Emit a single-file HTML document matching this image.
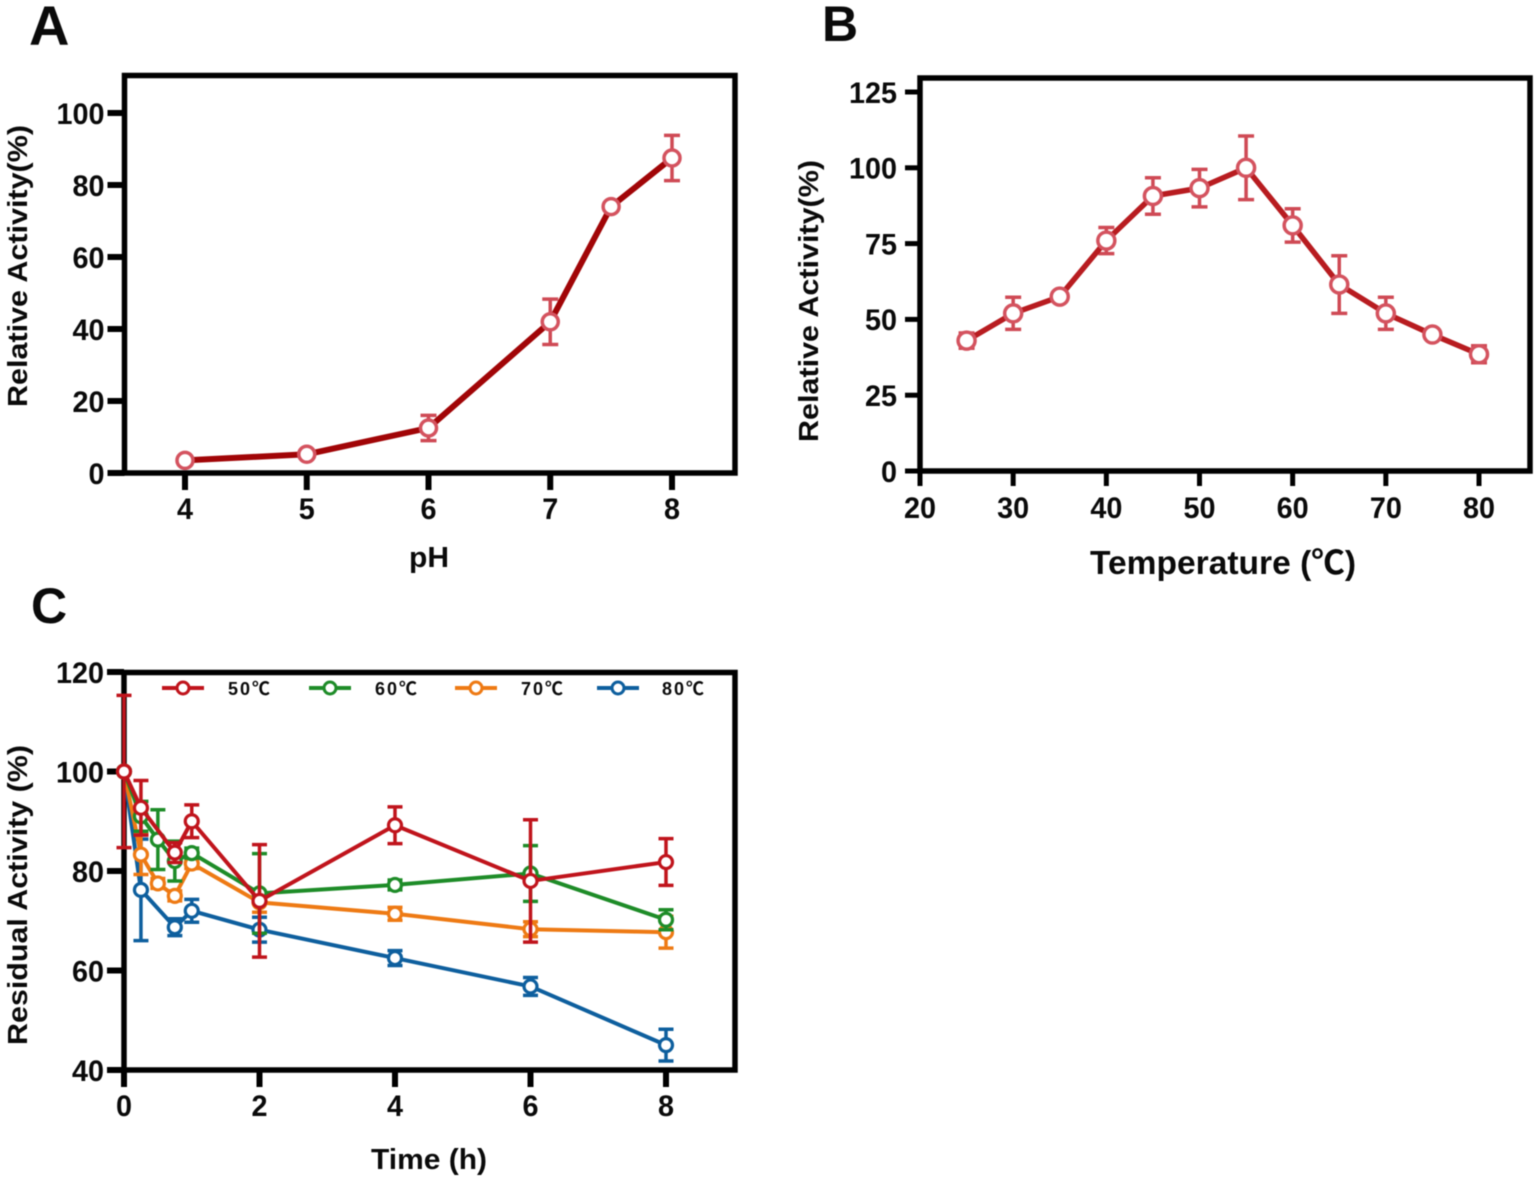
<!DOCTYPE html>
<html>
<head>
<meta charset="utf-8">
<title>Enzyme activity charts</title>
<style>
html,body{margin:0;padding:0;background:#fff;}
svg{display:block;filter:blur(0.4px);}
text{font-family:"Liberation Sans","Noto Sans CJK SC",sans-serif;font-weight:bold;fill:#0a0a0a;}
</style>
</head>
<body>
<svg id="figure" xmlns="http://www.w3.org/2000/svg" width="1535" height="1181" viewBox="0 0 1535 1181">
  <rect x="0" y="0" width="1535" height="1181" fill="#fff"/>
  <text x="29" y="45" font-size="56">A</text>
  <text x="822" y="41" font-size="50">B</text>
  <text x="31" y="623" font-size="50">C</text>

  <text transform="translate(27,266) rotate(-90)" text-anchor="middle" font-size="28" textLength="282" lengthAdjust="spacingAndGlyphs">Relative Activity(%)</text>
  <text x="429" y="567" text-anchor="middle" font-size="29" textLength="40" lengthAdjust="spacingAndGlyphs">pH</text>

  <text transform="translate(818,301) rotate(-90)" text-anchor="middle" font-size="28" textLength="282" lengthAdjust="spacingAndGlyphs">Relative Activity(%)</text>
  <text x="1223" y="574" text-anchor="middle" font-size="33" textLength="266" lengthAdjust="spacingAndGlyphs">Temperature (℃)</text>

  <text transform="translate(27,895) rotate(-90)" text-anchor="middle" font-size="28" textLength="300" lengthAdjust="spacingAndGlyphs">Residual Activity (%)</text>
  <text x="429" y="1169" text-anchor="middle" font-size="29" textLength="116" lengthAdjust="spacingAndGlyphs">Time (h)</text>

  <g id="panel-a"></g>
  <g id="panel-b"></g>
  <g id="panel-c"></g>
  <g id="legend">
    <text x="228" y="695" font-size="18" letter-spacing="2">50℃</text>
    <text x="375" y="695" font-size="18" letter-spacing="2">60℃</text>
    <text x="521" y="695" font-size="18" letter-spacing="2">70℃</text>
    <text x="662" y="695" font-size="18" letter-spacing="2">80℃</text>
  </g>
</svg>
<script>
// Panel A data
var phValues = [4, 5, 6, 7, 7.5, 8];
var phActivity = [3.5, 5.2, 12.5, 42, 74, 87.5];
var phError = [0.6, 0.6, 3.5, 6.3, 0.6, 6.3];
var phXTicks = [4, 5, 6, 7, 8];
var phYTicks = [0, 20, 40, 60, 80, 100];

// Panel B data
var tempValues = [25, 30, 35, 40, 45, 50, 55, 60, 65, 70, 75, 80];
var tempActivity = [43, 52, 57.5, 76, 90.7, 93.3, 100, 81, 61.5, 52, 45, 38.5];
var tempError = [2.5, 5.3, 1, 4.3, 6, 6.2, 10.5, 5.5, 9.5, 5.3, 0.5, 2.8];
var tempXTicks = [20, 30, 40, 50, 60, 70, 80];
var tempYTicks = [0, 25, 50, 75, 100, 125];

// Panel C data
var timeXTicks = [0, 2, 4, 6, 8];
var timeYTicks = [40, 60, 80, 100, 120];
var time50 = [0, 0.25, 0.75, 1, 2, 4, 6, 8];
var activity50 = [100, 92.7, 83.7, 90, 74, 89.2, 78, 81.8];
var error50 = [15.3, 5.5, 2, 3.3, 11.3, 3.7, 12.3, 4.7];
var time60 = [0, 0.25, 0.5, 0.75, 1, 2, 4, 6, 8];
var activity60 = [100, 91, 86.3, 82, 83.6, 75.5, 77.2, 79.5, 70.2];
var error60 = [0, 3, 6, 4, 1, 8, 1, 5.6, 2];
var time70 = [0, 0.25, 0.5, 0.75, 1, 2, 4, 6, 8];
var activity70 = [100, 83.3, 77.5, 75, 81.5, 73.7, 71.4, 68.3, 67.7];
var error70 = [0, 4, 1, 1, 1, 2, 1.3, 1.5, 3.2];
var time80 = [0, 0.25, 0.75, 1, 2, 4, 6, 8];
var activity80 = [100, 76.2, 68.7, 72, 68.2, 62.5, 56.8, 45];
var error80 = [0, 10.2, 1.7, 2.3, 2.5, 1.5, 1.8, 3.2];

var NS = 'http://www.w3.org/2000/svg';

function linear(d0, d1, r0, r1) {
  return function (v) { return r0 + (v - d0) * (r1 - r0) / (d1 - d0); };
}
function make(parent, tag, props) {
  var node = document.createElementNS(NS, tag);
  for (var k in props) node.setAttribute(k, props[k]);
  parent.appendChild(node);
  return node;
}

function drawAxes(g, box, xs, ys, xTicks, yTicks, style, prefix) {
  var frame = make(g, 'rect', {x: box.l, y: box.t, width: box.r - box.l, height: box.b - box.t, fill: 'none', stroke: '#000', 'stroke-width': style.frame});
  
  
  xTicks.forEach(function (v) {
    var tick = make(g, 'line', {x1: xs(v), x2: xs(v), y1: box.b, y2: box.b + style.tickLen, stroke: '#000', 'stroke-width': style.tick});
    
    
    var label = make(g, 'text', {x: xs(v), y: box.b + style.xLabelDy, 'text-anchor': 'middle', 'font-size': style.font, textLength: String(v).length * style.digit, lengthAdjust: 'spacingAndGlyphs'});
    
    
    label.textContent = v;
  });
  yTicks.forEach(function (v) {
    var tick = make(g, 'line', {x1: box.l - style.tickLen, x2: box.l, y1: ys(v), y2: ys(v), stroke: '#000', 'stroke-width': style.tick});
    
    
    var label = make(g, 'text', {x: box.l - style.tickLen - style.gap, y: ys(v) + style.font * 0.36, 'text-anchor': 'end', 'font-size': style.font, textLength: String(v).length * style.digit, lengthAdjust: 'spacingAndGlyphs'});
    
    
    label.textContent = v;
  });
}

function drawSeries(g, xv, yv, ev, xs, ys, st, name) {
  var pts = xv.map(function (x, i) { return xs(x) + ',' + ys(yv[i]); }).join(' ');
  xv.forEach(function (x, i) {
    if (!ev[i]) return;
    var px = xs(x), top = ys(yv[i] + ev[i]), bot = ys(yv[i] - ev[i]);
    var bar = make(g, 'path', {
      d: 'M' + px + ' ' + top + 'V' + bot + 'M' + (px - st.cap) + ' ' + top + 'H' + (px + st.cap) + 'M' + (px - st.cap) + ' ' + bot + 'H' + (px + st.cap),
      fill: 'none', stroke: st.errColor, 'stroke-width': st.errWidth
    });
    
    
  });
  var line = make(g, 'polyline', {points: pts, fill: 'none', stroke: st.color, 'stroke-width': st.width, 'stroke-linejoin': 'round'});
  
  
  xv.forEach(function (x, i) {
    var dot = make(g, 'circle', {cx: xs(x), cy: ys(yv[i]), r: st.r, fill: '#fff', stroke: st.markColor, 'stroke-width': st.markWidth});
    
    
  });
}

// Panel A
var gA = document.getElementById('panel-a');
var xA = linear(4, 8, 185, 672);
var yA = linear(0, 100, 473, 113);
drawAxes(gA, {l: 124.5, t: 75.5, r: 735, b: 473}, xA, yA, phXTicks, phYTicks,
  {frame: 5.5, tick: 6, tickLen: 17, xLabelDy: 46, font: 30, digit: 16, gap: 3}, 'panel-a');
drawSeries(gA, phValues, phActivity, phError, xA, yA,
  {color: '#a10507', width: 6, errColor: '#cf4a55', errWidth: 3.5, cap: 8, r: 8, markColor: '#d4535f', markWidth: 3.5}, 'ph-activity');

// Panel B
var gB = document.getElementById('panel-b');
var xB = linear(20, 80, 920, 1479);
var yB = linear(0, 125, 471, 92);
drawAxes(gB, {l: 920, t: 78, r: 1530, b: 471}, xB, yB, tempXTicks, tempYTicks,
  {frame: 5.5, tick: 5, tickLen: 15, xLabelDy: 47, font: 30, digit: 16, gap: 8}, 'panel-b');
drawSeries(gB, tempValues, tempActivity, tempError, xB, yB,
  {color: '#b81c20', width: 5.5, errColor: '#cf4a55', errWidth: 3.5, cap: 8, r: 8.5, markColor: '#d4535f', markWidth: 3.5}, 'temperature-activity');

// Panel C
var gC = document.getElementById('panel-c');
var xC = linear(0, 8, 124, 666);
var yC = linear(40, 120, 1070, 672);
drawAxes(gC, {l: 124, t: 672.5, r: 735, b: 1070}, xC, yC, timeXTicks, timeYTicks,
  {frame: 5.5, tick: 6, tickLen: 17, xLabelDy: 46, font: 30, digit: 16, gap: 3}, 'panel-c');
var red = '#c0141c', green = '#1e8c28', orange = '#ee7a14', blue = '#0e5f9e';
function styleFor(c) {
  return {color: c, width: 4, errColor: c, errWidth: 3.5, cap: 7.5, r: 6.5, markColor: c, markWidth: 3.2};
}
drawSeries(gC, time80, activity80, error80, xC, yC, styleFor(blue), 'series-80c');
drawSeries(gC, time70, activity70, error70, xC, yC, styleFor(orange), 'series-70c');
drawSeries(gC, time60, activity60, error60, xC, yC, styleFor(green), 'series-60c');
drawSeries(gC, time50, activity50, error50, xC, yC, styleFor(red), 'series-50c');

// Legend samples
var legendG = document.getElementById('legend');
var legendColors = [red, green, orange, blue];
var legendStarts = [162, 309, 455, 597];
var legendNames = ['50c', '60c', '70c', '80c'];
legendColors.forEach(function (c, i) {
  var sample = make(legendG, 'line', {x1: legendStarts[i], x2: legendStarts[i] + 42, y1: 688, y2: 688, stroke: c, 'stroke-width': 4});
  
  
  var mark = make(legendG, 'circle', {cx: legendStarts[i] + 21, cy: 688, r: 6, fill: '#fff', stroke: c, 'stroke-width': 3});
  
  
});
</script>
</body>
</html>
